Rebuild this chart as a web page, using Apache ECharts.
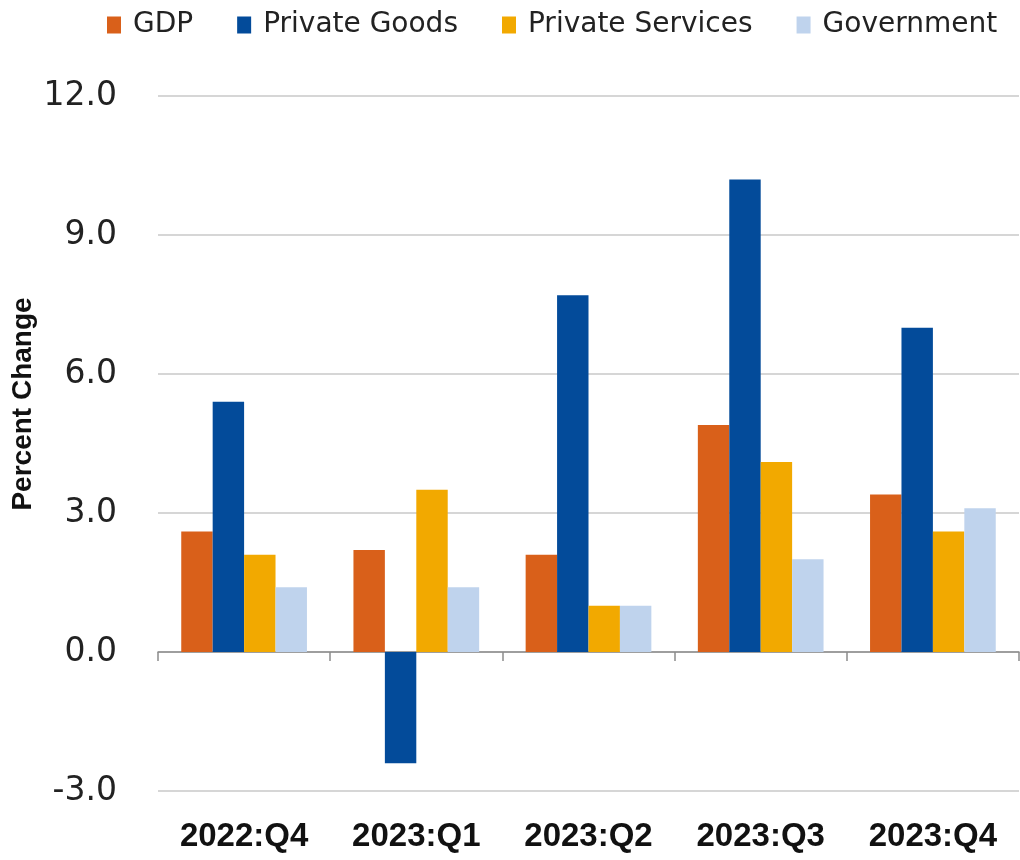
<!DOCTYPE html>
<html>
<head>
<meta charset="utf-8">
<title>Real GDP growth by sector</title>
<script src="https://cdn.jsdelivr.net/npm/echarts@6/dist/echarts.min.js"></script>
<style>
  html, body { margin: 0; padding: 0; background: #ffffff; }
  #chart { width: 1020px; height: 860px; }
</style>
</head>
<body>
<div id="chart"></div>
<script>
// Quarters on the category axis
const quarters = ['2022:Q4', '2023:Q1', '2023:Q2', '2023:Q3', '2023:Q4'];

// Percent change, annualized, by sector
const gdp = [2.6, 2.2, 2.1, 4.9, 3.4];
const privateGoods = [5.4, -2.4, 7.7, 10.2, 7.0];
const privateServices = [2.1, 3.5, 1.0, 4.1, 2.6];
const government = [1.4, 1.4, 1.0, 2.0, 3.1];

// Value axis range and step
const yMin = -3;
const yMax = 12;
const yStep = 3;

const seriesNames = ['GDP', 'Private Goods', 'Private Services', 'Government'];
const seriesData = [gdp, privateGoods, privateServices, government];
const seriesColors = ['#D9601A', '#034B9A', '#F2A900', '#BFD3ED'];

const chart = echarts.init(document.getElementById('chart'), null, { renderer: 'canvas' });

const option = {
  backgroundColor: '#ffffff',
  animation: false,
  color: seriesColors,
  legend: {
    top: 6,
    left: 102,
    itemWidth: 14,
    itemHeight: 17,
    itemGap: 44,
    icon: 'rect',
    data: seriesNames,
    textStyle: {
      fontFamily: 'DejaVu Sans',
      fontSize: 28,
      color: '#222222',
      padding: [0, 0, 0, 7]
    }
  },
  grid: {
    left: 158,
    right: 1,
    top: 96,
    bottom: 69,
    containLabel: false
  },
  // Vertical axis title, placed over the upper half of the plot
  graphic: [
    {
      type: 'text',
      x: 23,
      y: 404,
      rotation: Math.PI / 2,
      style: {
        text: 'Percent Change',
        fontFamily: 'Liberation Sans',
        fontWeight: 'bold',
        fontSize: 28,
        fill: '#111111',
        align: 'center',
        verticalAlign: 'middle'
      }
    }
  ],
  xAxis: [
    {
      type: 'category',
      data: quarters,
      axisLine: { onZero: true, lineStyle: { color: '#8c8c8c', width: 1.5 } },
      axisTick: { show: true, length: 9, lineStyle: { color: '#8c8c8c', width: 1.5 } },
      axisLabel: { show: false }
    },
    {
      type: 'category',
      data: quarters,
      position: 'bottom',
      axisLine: { show: false, onZero: false },
      axisTick: { show: false },
      axisLabel: {
        margin: 29,
        fontFamily: 'Liberation Sans',
        fontWeight: 'bold',
        fontSize: 33,
        color: '#111111'
      }
    }
  ],
  yAxis: {
    type: 'value',
    min: yMin,
    max: yMax,
    interval: yStep,
    axisLine: { show: false },
    axisTick: { show: false },
    axisLabel: {
      margin: 41,
      fontFamily: 'DejaVu Sans',
      fontSize: 33,
      color: '#222222',
      formatter: v => v.toFixed(1)
    },
    splitLine: { show: true, lineStyle: { color: '#d6d6d6', width: 2 } }
  },
  series: seriesNames.map((name, i) => ({
    name: name,
    type: 'bar',
    xAxisIndex: 0,
    data: seriesData[i],
    barGap: '0%',
    barCategoryGap: '27%',
    itemStyle: { color: seriesColors[i] }
  }))
};

chart.setOption(option);
</script>
</body>
</html>
